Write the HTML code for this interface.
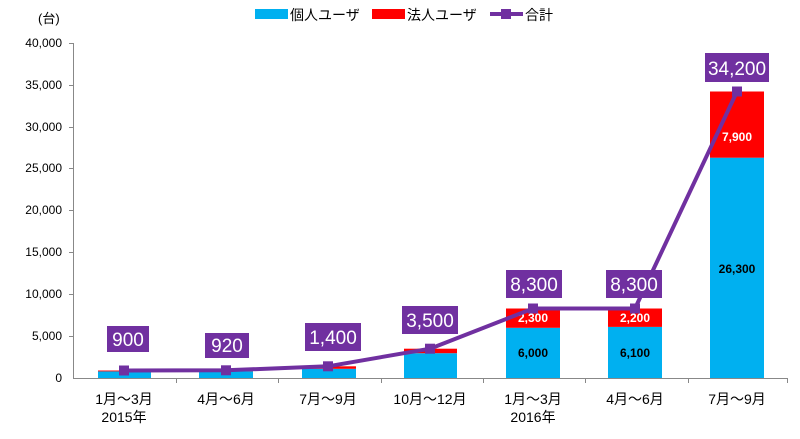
<!DOCTYPE html>
<html><head><meta charset="utf-8"><style>
body{margin:0;background:#fff}
svg text{font-family:"Liberation Sans","Noto Sans CJK JP",sans-serif}
</style></head><body>
<svg width="800" height="434" viewBox="0 0 800 434">
<rect width="800" height="434" fill="#fff"/>
<text x="38" y="23" font-size="13" fill="#000">(台)</text>
<rect x="255" y="9" width="33" height="10" fill="#00b0f0"/>
<text x="290" y="20" font-size="14">個人ユーザ</text>
<rect x="372" y="9" width="33" height="10" fill="#ff0000"/>
<text x="407" y="20" font-size="14">法人ユーザ</text>
<line x1="490" y1="14" x2="523" y2="14" stroke="#7030a0" stroke-width="4"/>
<rect x="501" y="9" width="10" height="10" fill="#7030a0"/>
<text x="525" y="20" font-size="14">合計</text>
<g font-size="12" text-anchor="end" fill="#000">
<text x="62" y="47">40,000</text><text x="62" y="89">35,000</text><text x="62" y="131">30,000</text>
<text x="62" y="172">25,000</text><text x="62" y="214">20,000</text><text x="62" y="256">15,000</text>
<text x="62" y="298">10,000</text><text x="62" y="340">5,000</text><text x="62" y="382">0</text>
</g>
<g stroke="#888" stroke-width="1">
<line x1="73.5" y1="43" x2="73.5" y2="378"/>
<line x1="73" y1="378.5" x2="788" y2="378.5"/>
<line x1="69" y1="43.5" x2="74" y2="43.5"/><line x1="69" y1="85.5" x2="74" y2="85.5"/>
<line x1="69" y1="127.5" x2="74" y2="127.5"/><line x1="69" y1="168.5" x2="74" y2="168.5"/>
<line x1="69" y1="210.5" x2="74" y2="210.5"/><line x1="69" y1="252.5" x2="74" y2="252.5"/>
<line x1="69" y1="294.5" x2="74" y2="294.5"/><line x1="69" y1="336.5" x2="74" y2="336.5"/>
<line x1="176.5" y1="378" x2="176.5" y2="383"/><line x1="278.5" y1="378" x2="278.5" y2="383"/>
<line x1="381.5" y1="378" x2="381.5" y2="383"/><line x1="483.5" y1="378" x2="483.5" y2="383"/>
<line x1="585.5" y1="378" x2="585.5" y2="383"/><line x1="688.5" y1="378" x2="688.5" y2="383"/>
<line x1="787.5" y1="378" x2="787.5" y2="383"/>
</g>
<g>
<rect x="98" y="371.3" width="53" height="6.7" fill="#00b0f0"/><rect x="98" y="370.5" width="53" height="0.9" fill="#f00"/>
<rect x="199" y="371.3" width="54" height="6.7" fill="#00b0f0"/><rect x="199" y="370.3" width="54" height="1" fill="#f00"/>
<rect x="302" y="368.8" width="54" height="9.2" fill="#00b0f0"/><rect x="302" y="366.3" width="54" height="2.5" fill="#f00"/>
<rect x="404" y="353.2" width="53" height="24.8" fill="#00b0f0"/><rect x="404" y="348.7" width="53" height="4.5" fill="#f00"/>
<rect x="506" y="327.8" width="54" height="50.2" fill="#00b0f0"/><rect x="506" y="308.5" width="54" height="19.3" fill="#f00"/>
<rect x="608" y="326.9" width="54" height="51.1" fill="#00b0f0"/><rect x="608" y="308.5" width="54" height="18.4" fill="#f00"/>
<rect x="710" y="157.7" width="54" height="220.3" fill="#00b0f0"/><rect x="710" y="91.5" width="54" height="66.2" fill="#f00"/>
</g>
<g font-size="12" font-weight="bold" text-anchor="middle">
<text x="533" y="322" fill="#fff">2,300</text><text x="533" y="357" fill="#000">6,000</text>
<text x="635" y="322" fill="#fff">2,200</text><text x="635" y="357" fill="#000">6,100</text>
<text x="737" y="141" fill="#fff">7,900</text><text x="737" y="273" fill="#000">26,300</text>
</g>
<polyline points="124,370.5 226,370.3 328,366.3 430,348.7 533,308.5 635,308.5 737,91.5" fill="none" stroke="#7030a0" stroke-width="4" stroke-linejoin="round"/>
<g fill="#7030a0">
<rect x="119" y="365.5" width="10" height="10"/><rect x="221" y="365.3" width="10" height="10"/>
<rect x="323" y="361.3" width="10" height="10"/><rect x="425" y="343.7" width="10" height="10"/>
<rect x="528" y="303.5" width="10" height="10"/><rect x="630" y="303.5" width="10" height="10"/>
<rect x="732" y="86.5" width="10" height="10"/>
</g>
<g fill="#7030a0">
<rect x="107" y="326" width="42" height="26"/><rect x="205" y="333" width="44" height="25"/>
<rect x="305" y="323" width="56" height="28"/><rect x="402" y="306" width="56" height="28"/>
<rect x="506" y="270" width="56" height="28"/><rect x="606" y="270" width="56" height="28"/>
<rect x="705" y="53" width="64" height="29"/>
</g>
<g font-size="19" fill="#fff" text-anchor="middle">
<text x="128" y="346">900</text><text x="227" y="352">920</text>
<text x="333" y="344">1,400</text><text x="430" y="327">3,500</text>
<text x="534" y="291">8,300</text><text x="634" y="291">8,300</text>
<text x="737" y="75">34,200</text>
</g>
<g font-size="14" text-anchor="middle" fill="#000">
<text x="124" y="404">1月～3月</text><text x="124" y="422">2015年</text>
<text x="226" y="404">4月～6月</text>
<text x="328" y="404">7月～9月</text>
<text x="430" y="404">10月～12月</text>
<text x="533" y="404">1月～3月</text><text x="533" y="422">2016年</text>
<text x="635" y="404">4月～6月</text>
<text x="737" y="404">7月～9月</text>
</g>
</svg>
</body></html>
